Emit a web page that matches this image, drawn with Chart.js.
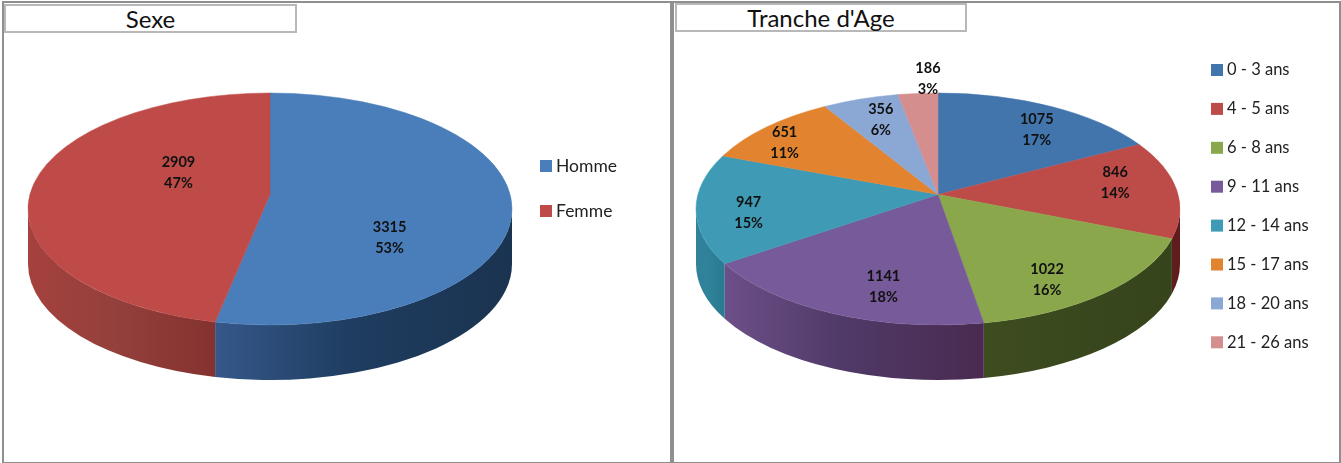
<!DOCTYPE html>
<html lang="fr">
<head>
<meta charset="utf-8">
<title>Sexe et tranche d'âge</title>
<script src="https://cdn.jsdelivr.net/npm/chart.js@4"></script>
<style>
    html, body { margin: 0; padding: 0; background: #fff; }
    body { position: relative; width: 1341px; height: 463px; overflow: hidden; font-family: Lato, sans-serif; }
    .panel { position: absolute; top: 1px; height: 459px; box-sizing: content-box; border: 2px solid #8f8f8f; }
    .titre { position: absolute; box-sizing: border-box; height: 29px; border: 2px solid #b8b8b8; background: #fff;
             text-align: center; font-size: 24px; line-height: 25px; color: #111; }
    canvas { position: absolute; top: 0; }
</style>
</head>
<body>
<div class="panel" style="left:2px;width:668px"></div>
<div class="panel" style="left:670px;width:667px"></div>
<canvas id="sexeChart" width="668" height="463" style="left:3px"></canvas>
<canvas id="ageChart" width="666" height="463" style="left:673px"></canvas>
<div class="titre" style="left:4px;top:4px;width:293px">Sexe</div>
<div class="titre" style="left:675px;top:3px;width:292px">Tranche d'Age</div>
<script>
// Données
const sexeLabels = ['Homme', 'Femme'];
const sexeValues = [3315, 2909];
const sexePercents = [53, 47];

const ageLabels = ['0 - 3 ans', '4 - 5 ans', '6 - 8 ans', '9 - 11 ans', '12 - 14 ans', '15 - 17 ans', '18 - 20 ans', '21 - 26 ans'];
const ageValues = [1075, 846, 1022, 1141, 947, 651, 356, 186];
const agePercents = [17, 14, 16, 18, 15, 11, 6, 3];

// Couleurs du dessus et de la tranche (gauche -> droite) de chaque part
const sexeColors = ['#4a7ebb', '#be4b48'];
const sexeWalls = [['#35588a', '#1f3d60', '#1a3350'], ['#a5413e', '#94403c', '#843230']];
const ageColors = ['#4375ad', '#bd4b48', '#8aa84b', '#775a9a', '#3f9bb5', '#e1832f', '#8ba8d5', '#d48e8e'];
const ageWalls = [
    ['#2a4a70', '#2a4a70', '#2a4a70'], ['#5e1c1c', '#5e1c1c', '#5e1c1c'],
    ['#3e4d20', '#3a481e', '#36441c'], ['#6c4f87', '#503a68', '#4a2a50'],
    ['#2f8299', '#2f8299', '#2a7a90'], ['#a0601f', '#a0601f', '#a0601f'],
    ['#6a85ad', '#6a85ad', '#6a85ad'], ['#a86f6f', '#a86f6f', '#a86f6f']
];

// Décalage de chaque étiquette par rapport au milieu de sa part
const sexeNudges = [[-61, 19.5], [89, -27]];
const ageNudges = [[5, -5], [-4, -21], [-6, 4], [17, -2], [-9, -6], [-14, -10], [8, -7.5], [7, -44]];

const RADIUS = 242;
const RY = 116;
const DEPTH = 55;
const CENTER_Y = 209;
const APEX_Y = 194.5;     // la perspective remonte le centre du camembert
const SKEW = 0.117;       // déplacement angulaire dû à cette perspective

// Angle de la part (donné par Chart.js) -> angle sur l'ellipse
const project = a => a - SKEW * Math.cos(a);

// Plugin : dessine les parts en perspective et la tranche 3D à partir des arcs de Chart.js
const pie3d = {
    id: 'pie3d',
    beforeDatasetDraw(chart) {
        const ctx = chart.ctx;
        const arcs = chart.getDatasetMeta(0).data;
        const opts = chart.options.plugins.pie3d;
        arcs.forEach((arc, i) => {
            const from = Math.max(project(arc.startAngle), 0);
            const to = Math.min(project(arc.endAngle), Math.PI);
            if (to <= from) return;
            const x1 = arc.x + Math.cos(to) * arc.outerRadius;
            const x2 = arc.x + Math.cos(from) * arc.outerRadius;
            const grad = ctx.createLinearGradient(x1, 0, x2, 0);
            grad.addColorStop(0, opts.walls[i][0]);
            grad.addColorStop(0.45, opts.walls[i][1]);
            grad.addColorStop(1, opts.walls[i][2]);
            ctx.beginPath();
            ctx.ellipse(arc.x, CENTER_Y, arc.outerRadius, RY, 0, from, to);
            ctx.ellipse(arc.x, CENTER_Y + DEPTH, arc.outerRadius, RY, 0, to, from, true);
            ctx.closePath();
            ctx.fillStyle = grad;
            ctx.fill();
        });
        arcs.forEach((arc, i) => {
            ctx.beginPath();
            ctx.moveTo(arc.x, APEX_Y);
            ctx.ellipse(arc.x, CENTER_Y, arc.outerRadius, RY, 0, project(arc.startAngle), project(arc.endAngle));
            ctx.closePath();
            ctx.fillStyle = arc.options.backgroundColor;
            ctx.strokeStyle = arc.options.backgroundColor;
            ctx.lineWidth = 0.5;
            ctx.fill();
            ctx.stroke();
        });
        return false;
    },
    afterDraw(chart) {
        const ctx = chart.ctx;
        const opts = chart.options.plugins.pie3d;
        const values = chart.data.datasets[0].data;
        const arcs = chart.getDatasetMeta(0).data;
        ctx.save();
        ctx.textAlign = 'center';
        ctx.textBaseline = 'middle';
        ctx.font = 'bold 14.5px Lato, sans-serif';
        ctx.fillStyle = '#111';
        arcs.forEach((arc, i) => {
            const mid = (arc.startAngle + arc.endAngle) / 2;
            const x = arc.x + Math.cos(mid) * arc.outerRadius * 0.75 + opts.nudges[i][0];
            const y = CENTER_Y + Math.sin(mid) * RY * 0.75 + opts.nudges[i][1];
            ctx.fillText(String(values[i]), x, y - 10.5);
            ctx.fillText(opts.percents[i] + '%', x, y + 10.5);
        });
        // Légende : le texte est collé au carré, plus près que ne le permet la légende native
        ctx.textAlign = 'left';
        ctx.font = opts.legendSize + 'px Lato, sans-serif';
        chart.data.labels.forEach((label, i) => {
            const y = opts.legendTop + i * opts.legendStep;
            ctx.fillStyle = chart.data.datasets[0].backgroundColor[i];
            ctx.fillRect(opts.legendX, y - 6, 12, 12);
            ctx.fillStyle = '#222';
            ctx.fillText(label, opts.legendX + 16, y);
        });
        ctx.restore();
    }
};

function makePie(id, labels, values, colors, extra, paddingRight) {
    return new Chart(document.getElementById(id), {
        type: 'pie',
        data: {
            labels: labels,
            datasets: [{ data: values, backgroundColor: colors, borderWidth: 0, radius: RADIUS }]
        },
        options: {
            responsive: false,
            animation: false,
            layout: { padding: { right: paddingRight } },
            plugins: {
                title: { display: false },
                tooltip: { enabled: false },
                legend: { display: false },
                pie3d: extra
            }
        },
        plugins: [pie3d]
    });
}

makePie('sexeChart', sexeLabels, sexeValues, sexeColors, {
    walls: sexeWalls, nudges: sexeNudges, percents: sexePercents,
    legendX: 537, legendTop: 166, legendStep: 45, legendSize: 17.5
}, 134);
makePie('ageChart', ageLabels, ageValues, ageColors, {
    walls: ageWalls, nudges: ageNudges, percents: agePercents,
    legendX: 538, legendTop: 70, legendStep: 38.9, legendSize: 16.5
}, 136);
</script>
</body>
</html>
